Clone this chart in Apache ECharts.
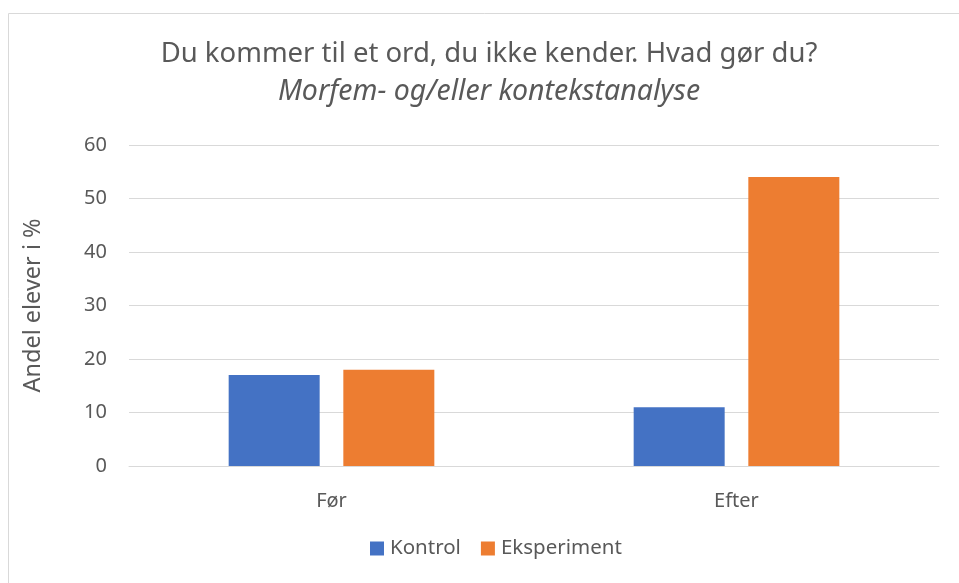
<!DOCTYPE html>
<html>
<head>
<meta charset="utf-8">
<script src="https://cdn.jsdelivr.net/npm/echarts@6/dist/echarts.min.js"></script>
<style>
  html, body { margin: 0; padding: 0; background: #fff; }
  #chart { width: 959px; height: 583px; }
</style>
</head>
<body>
<div id="chart"></div>
<script>
// kategorier og værdier
var categories = ['Før', 'Efter'];
var kontrol = [17, 11];
var eksperiment = [18, 54];
var yTicks = { min: 0, max: 60, interval: 10 };

var chart = echarts.init(document.getElementById('chart'));
var fontName = '"Noto Sans", "Open Sans", sans-serif';

var option = {
  animation: false,
  textStyle: { fontFamily: fontName, color: '#595959' },
  color: ['#4472c4', '#ed7d31'],
  graphic: [
    {
      type: 'rect',
      shape: { x: 8.5, y: 13.5, width: 1000, height: 1000 },
      style: { fill: 'none', stroke: '#d9d9d9', lineWidth: 1 },
      silent: true
    }
  ],
  title: {
    text: 'Du kommer til et ord, du ikke kender. Hvad gør du?',
    subtext: 'Morfem- og/eller kontekstanalyse',
    left: 484,
    textAlign: 'center',
    top: 35,
    itemGap: 9,
    textStyle: { fontFamily: fontName, fontSize: 27.5, fontWeight: 'normal', color: '#595959' },
    subtextStyle: { fontFamily: fontName, fontSize: 28.5, fontStyle: 'italic', color: '#595959' }
  },
  legend: {
    data: ['Kontrol', 'Eksperiment'],
    bottom: 19,
    left: 365,
    itemWidth: 14,
    itemHeight: 14,
    itemGap: 20,
    icon: 'rect',
    textStyle: { fontFamily: fontName, fontSize: 20.5, color: '#595959', padding: [0, 0, 0, 1] }
  },
  grid: { left: 129, right: 20, top: 145, bottom: 117 },
  xAxis: {
    type: 'category',
    data: categories,
    axisLine: { lineStyle: { color: '#d9d9d9', width: 1 } },
    axisTick: { show: false },
    axisLabel: { fontFamily: fontName, fontSize: 20, color: '#595959', margin: 25 }
  },
  yAxis: {
    type: 'value',
    min: yTicks.min,
    max: yTicks.max,
    interval: yTicks.interval,
    name: 'Andel elever i %',
    nameLocation: 'middle',
    nameGap: 84,
    nameTextStyle: { fontFamily: fontName, fontSize: 23.5, color: '#595959' },
    axisLine: { show: false },
    axisTick: { show: false },
    axisLabel: { fontFamily: fontName, fontSize: 20, color: '#595959', margin: 22 },
    splitLine: { lineStyle: { color: '#d9d9d9', width: 1 } }
  },
  series: [
    {
      name: 'Kontrol',
      type: 'bar',
      data: kontrol,
      barWidth: 91,
      barGap: '26%'
    },
    {
      name: 'Eksperiment',
      type: 'bar',
      data: eksperiment,
      barWidth: 91,
      barGap: '26%'
    }
  ]
};

chart.setOption(option);
</script>
</body>
</html>
